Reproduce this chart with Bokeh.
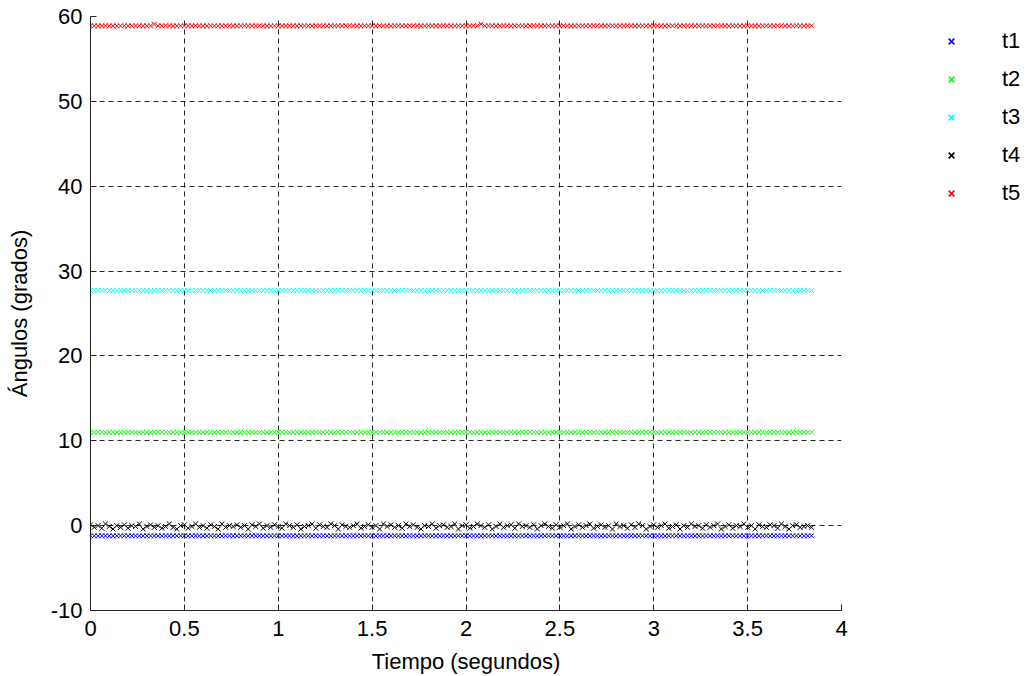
from bokeh.plotting import figure
from bokeh.layouts import row
from bokeh.models import Range1d, FixedTicker, Legend, LegendItem, ColumnDataSource
from bokeh.embed import file_html
from bokeh.resources import INLINE

tiempo = [
    0.00, 0.02, 0.04, 0.06, 0.08, 0.10, 0.12, 0.14, 0.16, 0.18,
    0.20, 0.22, 0.24, 0.26, 0.28, 0.30, 0.32, 0.34, 0.36, 0.38,
    0.40, 0.42, 0.44, 0.46, 0.48, 0.50, 0.52, 0.54, 0.56, 0.58,
    0.60, 0.62, 0.64, 0.66, 0.68, 0.70, 0.72, 0.74, 0.76, 0.78,
    0.80, 0.82, 0.84, 0.86, 0.88, 0.90, 0.92, 0.94, 0.96, 0.98,
    1.00, 1.02, 1.04, 1.06, 1.08, 1.10, 1.12, 1.14, 1.16, 1.18,
    1.20, 1.22, 1.24, 1.26, 1.28, 1.30, 1.32, 1.34, 1.36, 1.38,
    1.40, 1.42, 1.44, 1.46, 1.48, 1.50, 1.52, 1.54, 1.56, 1.58,
    1.60, 1.62, 1.64, 1.66, 1.68, 1.70, 1.72, 1.74, 1.76, 1.78,
    1.80, 1.82, 1.84, 1.86, 1.88, 1.90, 1.92, 1.94, 1.96, 1.98,
    2.00, 2.02, 2.04, 2.06, 2.08, 2.10, 2.12, 2.14, 2.16, 2.18,
    2.20, 2.22, 2.24, 2.26, 2.28, 2.30, 2.32, 2.34, 2.36, 2.38,
    2.40, 2.42, 2.44, 2.46, 2.48, 2.50, 2.52, 2.54, 2.56, 2.58,
    2.60, 2.62, 2.64, 2.66, 2.68, 2.70, 2.72, 2.74, 2.76, 2.78,
    2.80, 2.82, 2.84, 2.86, 2.88, 2.90, 2.92, 2.94, 2.96, 2.98,
    3.00, 3.02, 3.04, 3.06, 3.08, 3.10, 3.12, 3.14, 3.16, 3.18,
    3.20, 3.22, 3.24, 3.26, 3.28, 3.30, 3.32, 3.34, 3.36, 3.38,
    3.40, 3.42, 3.44, 3.46, 3.48, 3.50, 3.52, 3.54, 3.56, 3.58,
    3.60, 3.62, 3.64, 3.66, 3.68, 3.70, 3.72, 3.74, 3.76, 3.78,
    3.80, 3.82, 3.84,
]

t1 = [
    -1.2, -1.2, -1.2, -1.2, -1.2, -1.2, -1.2, -1.2, -1.2, -1.2,
    -1.2, -1.2, -1.2, -1.2, -1.2, -1.2, -1.2, -1.2, -1.2, -1.2,
    -1.2, -1.2, -1.2, -1.2, -1.2, -1.2, -1.2, -1.2, -1.2, -1.2,
    -1.2, -1.2, -1.2, -1.2, -1.2, -1.2, -1.2, -1.2, -1.2, -1.2,
    -1.2, -1.2, -1.2, -1.2, -1.2, -1.2, -1.2, -1.2, -1.2, -1.2,
    -1.2, -1.2, -1.2, -1.2, -1.2, -1.2, -1.2, -1.2, -1.2, -1.2,
    -1.2, -1.2, -1.2, -1.2, -1.2, -1.2, -1.2, -1.2, -1.2, -1.2,
    -1.2, -1.2, -1.2, -1.2, -1.2, -1.2, -1.2, -1.2, -1.2, -1.2,
    -1.2, -1.2, -1.2, -1.2, -1.2, -1.2, -1.2, -1.2, -1.2, -1.2,
    -1.2, -1.2, -1.2, -1.2, -1.2, -1.2, -1.2, -1.2, -1.2, -1.2,
    -1.2, -1.2, -1.2, -1.2, -1.2, -1.2, -1.2, -1.2, -1.2, -1.2,
    -1.2, -1.2, -1.2, -1.2, -1.2, -1.2, -1.2, -1.2, -1.2, -1.2,
    -1.2, -1.2, -1.2, -1.2, -1.2, -1.2, -1.2, -1.2, -1.2, -1.2,
    -1.2, -1.2, -1.2, -1.2, -1.2, -1.2, -1.2, -1.2, -1.2, -1.2,
    -1.2, -1.2, -1.2, -1.2, -1.2, -1.2, -1.2, -1.2, -1.2, -1.2,
    -1.2, -1.2, -1.2, -1.2, -1.2, -1.2, -1.2, -1.2, -1.2, -1.2,
    -1.2, -1.2, -1.2, -1.2, -1.2, -1.2, -1.2, -1.2, -1.2, -1.2,
    -1.2, -1.2, -1.2, -1.2, -1.2, -1.2, -1.2, -1.2, -1.2, -1.2,
    -1.2, -1.2, -1.2, -1.2, -1.2, -1.2, -1.2, -1.2, -1.2, -1.2,
    -1.2, -1.2, -1.2,
]

t2 = [
    11.0, 11.0, 11.0, 11.0, 11.0, 11.0, 11.0, 11.0, 11.0, 11.0,
    11.0, 11.0, 11.0, 11.0, 11.0, 11.0, 11.0, 11.0, 11.0, 11.0,
    11.0, 11.0, 11.0, 11.0, 11.0, 11.0, 11.0, 11.0, 11.0, 11.0,
    11.0, 11.0, 11.0, 11.0, 11.0, 11.0, 11.0, 11.0, 11.0, 11.0,
    11.0, 11.0, 11.0, 11.0, 11.0, 11.0, 11.0, 11.0, 11.0, 11.0,
    11.0, 11.0, 11.0, 11.0, 11.0, 11.0, 11.0, 11.0, 11.0, 11.0,
    11.0, 11.0, 11.0, 11.0, 11.0, 11.0, 11.0, 11.0, 11.0, 11.0,
    11.0, 11.0, 11.0, 11.0, 11.0, 11.0, 11.0, 11.0, 11.0, 11.0,
    11.0, 11.0, 11.0, 11.0, 11.0, 11.0, 11.0, 11.0, 11.0, 11.0,
    11.0, 11.0, 11.0, 11.0, 11.0, 11.0, 11.0, 11.0, 11.0, 11.0,
    11.0, 11.0, 11.0, 11.0, 11.0, 11.0, 11.0, 11.0, 11.0, 11.0,
    11.0, 11.0, 11.0, 11.0, 11.0, 11.0, 11.0, 11.0, 11.0, 11.0,
    11.0, 11.0, 11.0, 11.0, 11.0, 11.0, 11.0, 11.0, 11.0, 11.0,
    11.0, 11.0, 11.0, 11.0, 11.0, 11.0, 11.0, 11.0, 11.0, 11.0,
    11.0, 11.0, 11.0, 11.0, 11.0, 11.0, 11.0, 11.0, 11.0, 11.0,
    11.0, 11.0, 11.0, 11.0, 11.0, 11.0, 11.0, 11.0, 11.0, 11.0,
    11.0, 11.0, 11.0, 11.0, 11.0, 11.0, 11.0, 11.0, 11.0, 11.0,
    11.0, 11.0, 11.0, 11.0, 11.0, 11.0, 11.0, 11.0, 11.0, 11.0,
    11.0, 11.0, 11.0, 11.0, 11.0, 11.0, 11.0, 11.0, 11.0, 11.0,
    11.0, 11.0, 11.0,
]

t3 = [
    27.7, 27.7, 27.7, 27.7, 27.7, 27.7, 27.7, 27.7, 27.7, 27.7,
    27.7, 27.7, 27.7, 27.7, 27.7, 27.7, 27.7, 27.7, 27.7, 27.7,
    27.7, 27.7, 27.7, 27.7, 27.7, 27.7, 27.7, 27.7, 27.7, 27.7,
    27.7, 27.7, 27.7, 27.7, 27.7, 27.7, 27.7, 27.7, 27.7, 27.7,
    27.7, 27.7, 27.7, 27.7, 27.7, 27.7, 27.7, 27.7, 27.7, 27.7,
    27.7, 27.7, 27.7, 27.7, 27.7, 27.7, 27.7, 27.7, 27.7, 27.7,
    27.7, 27.7, 27.7, 27.7, 27.7, 27.7, 27.7, 27.7, 27.7, 27.7,
    27.7, 27.7, 27.7, 27.7, 27.7, 27.7, 27.7, 27.7, 27.7, 27.7,
    27.7, 27.7, 27.7, 27.7, 27.7, 27.7, 27.7, 27.7, 27.7, 27.7,
    27.7, 27.7, 27.7, 27.7, 27.7, 27.7, 27.7, 27.7, 27.7, 27.7,
    27.7, 27.7, 27.7, 27.7, 27.7, 27.7, 27.7, 27.7, 27.7, 27.7,
    27.7, 27.7, 27.7, 27.7, 27.7, 27.7, 27.7, 27.7, 27.7, 27.7,
    27.7, 27.7, 27.7, 27.7, 27.7, 27.7, 27.7, 27.7, 27.7, 27.7,
    27.7, 27.7, 27.7, 27.7, 27.7, 27.7, 27.7, 27.7, 27.7, 27.7,
    27.7, 27.7, 27.7, 27.7, 27.7, 27.7, 27.7, 27.7, 27.7, 27.7,
    27.7, 27.7, 27.7, 27.7, 27.7, 27.7, 27.7, 27.7, 27.7, 27.7,
    27.7, 27.7, 27.7, 27.7, 27.7, 27.7, 27.7, 27.7, 27.7, 27.7,
    27.7, 27.7, 27.7, 27.7, 27.7, 27.7, 27.7, 27.7, 27.7, 27.7,
    27.7, 27.7, 27.7, 27.7, 27.7, 27.7, 27.7, 27.7, 27.7, 27.7,
    27.7, 27.7, 27.7,
]

t4 = [
    0.1, -0.2, 0.0, -0.3, 0.2, -0.1, -0.4, 0.0, -0.2, 0.1,
    -0.3, 0.0, -0.1, 0.2, -0.4, -0.1, 0.1, -0.2, 0.0, -0.3,
    -0.1, 0.2, -0.2, -0.4, 0.0, 0.1, -0.3, -0.1, 0.2, -0.2,
    0.0, -0.3, 0.1, -0.1, -0.4, 0.2, -0.2, 0.0, -0.1, 0.1,
    -0.2, 0.0, -0.4, 0.1, -0.1, 0.2, -0.3, 0.0, -0.2, 0.1,
    -0.1, -0.3, 0.2, 0.0, -0.2, 0.1, -0.4, -0.1, 0.0, 0.2,
    -0.3, 0.1, -0.1, -0.2, 0.2, 0.0, -0.4, 0.1, -0.1, -0.2,
    0.0, 0.2, -0.3, -0.1, 0.1, -0.2, 0.0, -0.4, 0.2, -0.1,
    0.1, -0.2, 0.0, -0.3, 0.2, -0.1, 0.1, -0.2, -0.4, 0.0,
    -0.1, 0.2, -0.3, 0.0, 0.1, -0.2, -0.1, 0.2, -0.4, 0.0,
    0.1, -0.3, -0.1, 0.2, 0.0, -0.2, 0.1, -0.4, -0.1, 0.2,
    -0.2, 0.0, 0.1, -0.3, 0.2, -0.1, 0.0, -0.2, 0.1, -0.4,
    0.0, 0.2, -0.1, -0.3, 0.1, -0.2, 0.0, 0.2, -0.4, -0.1,
    0.1, -0.2, 0.0, 0.2, -0.3, -0.1, 0.1, -0.2, 0.0, -0.4,
    0.2, -0.1, 0.0, -0.3, 0.1, -0.2, 0.2, 0.0, -0.4, -0.1,
    0.1, -0.2, 0.0, 0.2, -0.3, -0.1, 0.1, -0.4, 0.0, -0.2,
    0.2, -0.1, 0.0, -0.3, 0.1, -0.2, 0.0, 0.2, -0.4, -0.1,
    0.1, -0.3, 0.0, -0.1, 0.2, -0.2, 0.0, -0.4, 0.1, -0.1,
    -0.2, 0.1, 0.0, -0.3, 0.2, -0.1, -0.4, 0.0, 0.1, -0.2,
    -0.1, 0.0, -0.2,
]

t5 = [
    58.9, 58.9, 58.9, 58.9, 58.9, 58.9, 58.9, 58.9, 58.9, 58.9,
    58.9, 58.9, 58.9, 58.9, 58.9, 58.9, 58.9, 59.1, 58.9, 58.9,
    58.9, 58.9, 58.9, 58.9, 58.9, 58.9, 58.9, 58.9, 58.9, 58.9,
    58.9, 58.9, 58.9, 58.9, 58.9, 58.9, 58.9, 58.9, 58.9, 58.9,
    58.9, 58.9, 58.9, 58.9, 58.9, 58.9, 58.9, 58.9, 58.9, 58.9,
    58.9, 58.9, 58.9, 58.9, 58.9, 58.9, 58.9, 58.9, 58.9, 58.9,
    58.9, 58.9, 58.9, 58.9, 58.9, 58.9, 58.9, 58.9, 58.9, 58.9,
    58.9, 58.9, 58.9, 58.9, 58.9, 58.9, 58.9, 58.9, 58.9, 58.9,
    58.9, 58.9, 58.9, 58.9, 58.9, 58.9, 58.9, 58.9, 58.9, 58.9,
    58.9, 58.9, 58.9, 58.9, 58.9, 58.9, 58.9, 58.9, 58.9, 58.9,
    58.9, 58.9, 58.9, 58.9, 59.1, 58.9, 58.9, 58.9, 58.9, 58.9,
    58.9, 58.9, 58.9, 58.9, 58.9, 58.9, 58.9, 58.9, 58.9, 58.9,
    58.9, 58.9, 58.9, 58.9, 58.9, 58.9, 58.9, 58.9, 58.9, 58.9,
    58.9, 58.9, 58.9, 58.9, 58.9, 58.9, 58.9, 58.9, 58.9, 58.9,
    58.9, 58.9, 58.9, 58.9, 58.9, 58.9, 58.9, 58.9, 58.9, 58.9,
    58.9, 58.9, 58.9, 58.9, 58.9, 58.9, 58.9, 58.9, 58.9, 58.9,
    58.9, 58.9, 58.9, 58.9, 58.9, 58.9, 58.9, 58.9, 58.9, 58.9,
    58.9, 58.9, 58.9, 58.9, 58.9, 58.9, 58.9, 58.9, 58.9, 58.9,
    58.9, 58.9, 58.9, 58.9, 58.9, 58.9, 58.9, 58.9, 58.9, 58.9,
    58.9, 58.9, 58.9,
]

series_names = ["t1", "t2", "t3", "t4", "t5"]
series_values = [t1, t2, t3, t4, t5]
series_colors = ["#0000ff", "#00ff00", "#00ffff", "#000000", "#ff0000"]

x_ticks = [0, 0.5, 1, 1.5, 2, 2.5, 3, 3.5, 4]
x_tick_labels = ["0", "0.5", "1", "1.5", "2", "2.5", "3", "3.5", "4"]
y_ticks = [-10, 0, 10, 20, 30, 40, 50, 60]
y_tick_labels = ["-10", "0", "10", "20", "30", "40", "50", "60"]

FONT = "Liberation Sans"

p = figure(
    frame_width=751, frame_height=594,
    x_range=Range1d(0, 4), y_range=Range1d(-10, 60),
    output_backend="svg", toolbar_location=None,
    min_border_left=90, min_border_right=10,
    min_border_top=16, min_border_bottom=61,
)
p.outline_line_color = None
p.background_fill_color = "white"
p.border_fill_color = "white"

sources = []
for name, vals, col in zip(series_names, series_values, series_colors):
    src = ColumnDataSource(data=dict(x=tiempo, y=vals))
    sources.append(src)
    p.scatter("x", "y", source=src, marker="x", size=7,
              line_color=col, line_width=1)

for ax in (p.xaxis[0], p.yaxis[0]):
    ax.major_tick_in = 6
    ax.major_tick_out = 0
    ax.minor_tick_line_color = None
    ax.axis_line_color = "#222222"
    ax.major_tick_line_color = "#222222"
    ax.major_label_text_font = FONT
    ax.major_label_text_font_size = "22px"
    ax.major_label_text_color = "black"
    ax.axis_label_text_font = FONT
    ax.axis_label_text_font_size = "22px"
    ax.axis_label_text_font_style = "normal"
    ax.axis_label_text_color = "black"

p.xaxis.ticker = FixedTicker(ticks=x_ticks)
p.yaxis.ticker = FixedTicker(ticks=y_ticks)
p.xaxis.major_label_overrides = {t: s for t, s in zip(x_ticks, x_tick_labels)}
p.yaxis.major_label_overrides = {t: s for t, s in zip(y_ticks, y_tick_labels)}
p.xaxis.axis_label = "Tiempo (segundos)"
p.yaxis.axis_label = "Ángulos (grados)"
p.xaxis.major_label_standoff = 10
p.xaxis.axis_label_standoff = 10
p.yaxis.major_label_standoff = 8
p.yaxis.axis_label_standoff = 16

p.xgrid.ticker = FixedTicker(ticks=x_ticks)
p.ygrid.ticker = FixedTicker(ticks=y_ticks)
for g in (p.xgrid[0], p.ygrid[0]):
    g.grid_line_color = "black"
    g.grid_line_dash = "5 4"
    g.grid_line_width = 1
    g.grid_line_alpha = 0.85

# Legend lives in a small companion figure to the right of the axes.
# Its ranges lie outside the data, so its own copies of the series stay hidden.
pl = figure(
    width=176, height=671,
    x_range=Range1d(100, 101), y_range=Range1d(100, 101),
    x_axis_type=None, y_axis_type=None,
    output_backend="svg", toolbar_location=None,
    min_border=0,
)
pl.outline_line_color = None
pl.background_fill_color = "white"
pl.border_fill_color = "white"

items = []
for name, src, col in zip(series_names, sources, series_colors):
    r = pl.scatter("x", "y", source=src, marker="x", size=8,
                   line_color=col, line_width=1.6)
    items.append(LegendItem(label=name, renderers=[r]))

legend = Legend(items=items, location=(90, 393))
legend.background_fill_alpha = 0
legend.border_line_color = None
legend.padding = 0
legend.margin = 0
legend.spacing = 0
legend.glyph_width = 20
legend.glyph_height = 38
legend.label_height = 38
legend.label_standoff = 41
legend.label_text_font = FONT
legend.label_text_font_size = "22px"
legend.label_text_color = "black"
pl.add_layout(legend, "center")

layout = row(p, pl, spacing=0)
open("out.html", "w").write(file_html(layout, INLINE))
